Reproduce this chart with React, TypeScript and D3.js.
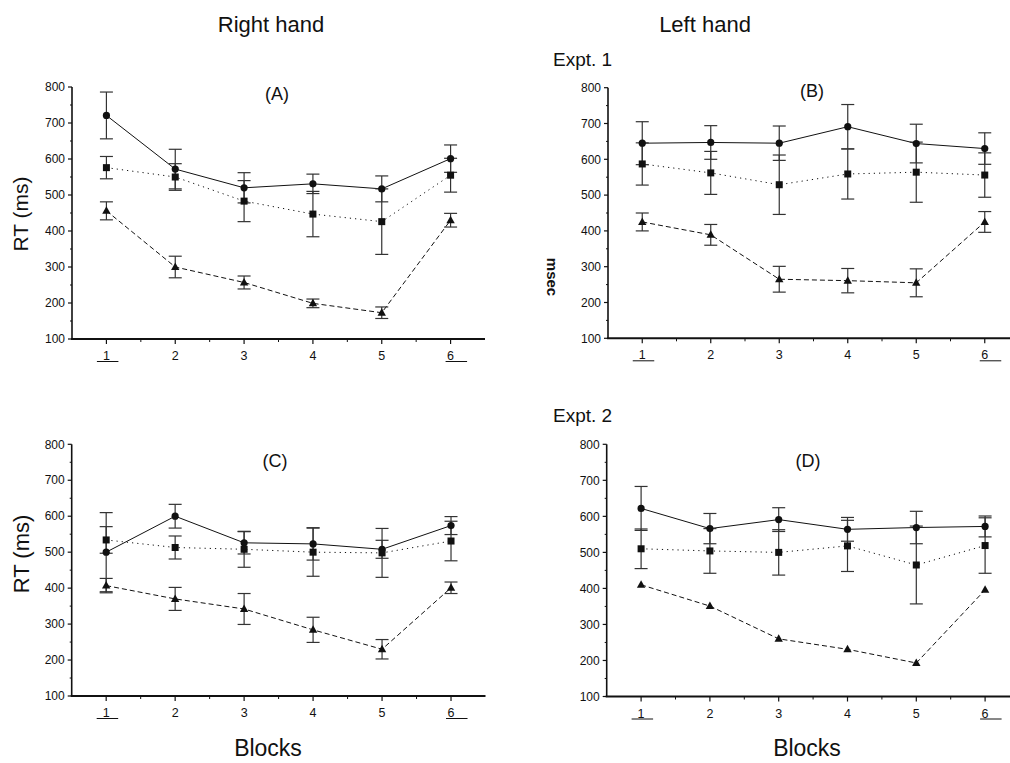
import React from "react";
import * as d3 from "d3";

const blocks = [1, 2, 3, 4, 5, 6];
const yTicks = [100, 200, 300, 400, 500, 600, 700, 800];

// Panel A (Right hand, Expt. 1)
const circleA = [721, 572, 520, 531, 517, 601];
const circleAErr = [65, 55, 42, 27, 36, 38];
const squareA = [576, 550, 483, 447, 426, 555];
const squareAErr = [31, 37, 57, 63, 91, 47];
const triA = [456, 300, 257, 199, 173, 430];
const triAErr = [25, 30, 18, 12, 16, 19];

// Panel B (Left hand, Expt. 1)
const circleB = [645, 647, 645, 691, 644, 630];
const circleBErr = [60, 47, 48, 62, 54, 44];
const squareB = [587, 562, 529, 559, 564, 556];
const squareBErr = [59, 60, 83, 70, 84, 62];
const triB = [425, 389, 265, 261, 255, 425];
const triBErr = [25, 29, 36, 34, 39, 29];

// Panel C (Right hand, Expt. 2)
const circleC = [500, 600, 526, 523, 508, 574];
const circleCErr = [110, 33, 31, 45, 25, 25];
const squareC = [534, 513, 508, 500, 498, 531];
const squareCErr = [37, 32, 50, 67, 68, 55];
const triC = [407, 370, 342, 284, 230, 401];
const triCErr = [20, 32, 43, 35, 27, 16];

// Panel D (Left hand, Expt. 2)
const circleD = [622, 566, 591, 564, 569, 572];
const circleDErr = [61, 42, 33, 33, 45, 29];
const squareD = [510, 504, 500, 518, 465, 519];
const squareDErr = [55, 62, 63, 71, 108, 77];
const triD = [410, 351, 260, 231, 193, 396];
const triDErr: number[] | null = null;

const FONT = "'Liberation Sans', Arial, Helvetica, sans-serif";
const INK = "#111";

type Series = { vals: number[]; err: number[] | null; shape: "circle" | "square" | "tri"; dash: string | null };

type PanelProps = {
  x0: number; x1: number; yTop: number; yBot: number;
  series: Series[];
  label: string; labelX: number; labelY: number;
};

function Panel({ x0, x1, yTop, yBot, series, label, labelX, labelY }: PanelProps) {
  const x = d3.scaleLinear().domain([0.5, 6.5]).range([x0, x1]);
  const y = d3.scaleLinear().domain([100, 800]).range([yBot, yTop]);
  const minorY = d3.range(150, 800, 100);
  const minorX = d3.range(1.5, 6.5, 1);
  const line = d3.line<number>().x((_, i) => x(blocks[i])).y((v) => y(v));
  const cap = 6.5;
  return (
    <g>
      {series.map((s, si) => (
        <path key={"l" + si} d={line(s.vals) || ""} fill="none" stroke={INK} strokeWidth={1}
          strokeDasharray={s.dash || undefined} />
      ))}
      {series.map((s, si) =>
        s.err
          ? s.vals.map((v, i) => {
              const cx = x(blocks[i]);
              const t = y(v + s.err![i]);
              const b = y(v - s.err![i]);
              return (
                <g key={"e" + si + "-" + i} stroke="#333" strokeWidth={1.2}>
                  <line x1={cx} x2={cx} y1={t} y2={b} />
                  <line x1={cx - cap} x2={cx + cap} y1={t} y2={t} />
                  <line x1={cx - cap} x2={cx + cap} y1={b} y2={b} />
                </g>
              );
            })
          : null
      )}
      {series.map((s, si) =>
        s.vals.map((v, i) => {
          const cx = x(blocks[i]);
          const cy = y(v);
          if (s.shape === "circle") return <circle key={"m" + si + i} cx={cx} cy={cy} r={3.6} fill={INK} />;
          if (s.shape === "square") return <rect key={"m" + si + i} x={cx - 3.5} y={cy - 3.5} width={7} height={7} fill={INK} />;
          return <path key={"m" + si + i} d={`M${cx},${cy - 4.5}L${cx + 4.2},${cy + 3}L${cx - 4.2},${cy + 3}Z`} fill={INK} />;
        })
      )}
      <line x1={x0} x2={x0} y1={yTop} y2={yBot} stroke={INK} strokeWidth={1.6} />
      {yTicks.map((t) => (
        <g key={"yt" + t}>
          <line x1={x0 - 4} x2={x0} y1={y(t)} y2={y(t)} stroke={INK} strokeWidth={1.2} />
          <text x={x0 - 7} y={y(t) + 4.2} textAnchor="end" fontFamily={FONT} fontSize={12} fill={INK}>{t}</text>
        </g>
      ))}
      {minorY.map((t) => (
        <line key={"ym" + t} x1={x0 - 2} x2={x0} y1={y(t)} y2={y(t)} stroke={INK} strokeWidth={1} />
      ))}
      <line x1={x0 - 1} x2={x1} y1={yBot} y2={yBot} stroke={INK} strokeWidth={2} />
      {blocks.map((b) => (
        <g key={"xt" + b}>
          <line x1={x(b)} x2={x(b)} y1={yBot} y2={yBot + 5} stroke={INK} strokeWidth={1.2} />
          <text x={x(b)} y={yBot + 21} textAnchor="middle" fontFamily={FONT} fontSize={12.5} fill={INK}>{b}</text>
        </g>
      ))}
      {minorX.map((b) => (
        <line key={"xm" + b} x1={x(b)} x2={x(b)} y1={yBot} y2={yBot + 3} stroke={INK} strokeWidth={1} />
      ))}
      <line x1={x(1) - 9.5} x2={x(1) + 12} y1={yBot + 22.5} y2={yBot + 22.5} stroke={INK} strokeWidth={1} />
      <line x1={x(6) - 5} x2={x(6) + 16.5} y1={yBot + 22.5} y2={yBot + 22.5} stroke={INK} strokeWidth={1} />
      <text x={labelX} y={labelY} textAnchor="middle" fontFamily={FONT} fontSize={18} fill={INK}>{label}</text>
    </g>
  );
}

function mk(c: number[], ce: number[] | null, s: number[], se: number[] | null, t: number[], te: number[] | null): Series[] {
  return [
    { vals: c, err: ce, shape: "circle", dash: null },
    { vals: s, err: se, shape: "square", dash: "1.2,4" },
    { vals: t, err: te, shape: "tri", dash: "5,3" },
  ];
}

export default function App() {
  return (
    <svg width={1010} height={763} style={{ position: "absolute", left: 0, top: 0, background: "#fff" }}>
      <rect width={1010} height={763} fill="#fff" />
      <text x={271} y={32} textAnchor="middle" fontFamily={FONT} fontSize={22} fill={INK}>Right hand</text>
      <text x={705} y={32} textAnchor="middle" fontFamily={FONT} fontSize={22} fill={INK}>Left hand</text>
      <text x={553} y={66} fontFamily={FONT} fontSize={19} fill={INK}>Expt. 1</text>
      <text x={553} y={422} fontFamily={FONT} fontSize={19} fill={INK}>Expt. 2</text>
      <text transform="translate(28,214) rotate(-90)" textAnchor="middle" fontFamily={FONT} fontSize={21} fill={INK}>RT (ms)</text>
      <text transform="translate(29,554) rotate(-90)" textAnchor="middle" fontFamily={FONT} fontSize={22} fill={INK}>RT (ms)</text>
      <text transform="translate(547,277) rotate(90)" textAnchor="middle" fontFamily={FONT} fontSize={15} fontWeight="bold" fill={INK}>msec</text>
      <text x={268} y={756} textAnchor="middle" fontFamily={FONT} fontSize={23} fill={INK}>Blocks</text>
      <text x={807} y={756} textAnchor="middle" fontFamily={FONT} fontSize={23} fill={INK}>Blocks</text>

      <Panel x0={72} x1={485} yTop={87} yBot={339} series={mk(circleA, circleAErr, squareA, squareAErr, triA, triAErr)}
        label="(A)" labelX={277} labelY={100} />
      <Panel x0={608} x1={1019} yTop={87.7} yBot={338.3} series={mk(circleB, circleBErr, squareB, squareBErr, triB, triBErr)}
        label="(B)" labelX={812} labelY={97} />
      <Panel x0={71.7} x1={485.5} yTop={444.3} yBot={696} series={mk(circleC, circleCErr, squareC, squareCErr, triC, triCErr)}
        label="(C)" labelX={275} labelY={467} />
      <Panel x0={606.7} x1={1019.5} yTop={444.3} yBot={696.5} series={mk(circleD, circleDErr, squareD, squareDErr, triD, triDErr)}
        label="(D)" labelX={808} labelY={467} />
    </svg>
  );
}
